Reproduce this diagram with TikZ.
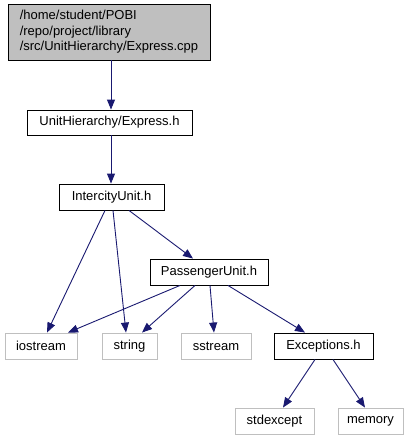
\documentclass[tikz,border=0pt]{standalone}
\usepackage{fontspec}
\setmainfont{Liberation Sans}
\usetikzlibrary{arrows.meta}
\definecolor{edgeblue}{HTML}{191970}
\definecolor{extgray}{HTML}{BFBFBF}
\begin{document}
\begin{tikzpicture}[x=1pt,y=-1pt,
  box/.style={draw=black, line width=0.9pt, fill=white, inner sep=0pt, font=\fontsize{13}{15.5}\selectfont},
  extbox/.style={draw=extgray, line width=0.9pt, fill=white, inner sep=0pt, font=\fontsize{13}{15.5}\selectfont},
  edge/.style={draw=edgeblue, line width=0.9pt, -{Triangle[length=10pt,width=8pt]}, color=edgeblue}]
\useasboundingbox (0,0) rectangle (413,440);
\node[box, fill=extgray, minimum width=202, minimum height=56, align=left] (top) at (109,32)
  {/home/student/POBI\\/repo/project/library\\/src/UnitHierarchy/Express.cpp};
\node[box, minimum width=165, minimum height=25] (ex) at (109.5,122.5) {UnitHierarchy/Express.h};
\node[box, minimum width=105, minimum height=26] (ic) at (111.5,197) {IntercityUnit.h};
\node[box, minimum width=118, minimum height=26] (pu) at (209,272) {PassengerUnit.h};
\node[extbox, minimum width=72, minimum height=26] (io) at (41,346) {iostream};
\node[extbox, minimum width=55, minimum height=26] (st) at (129.5,346) {string};
\node[extbox, minimum width=70, minimum height=26] (ss) at (216,346) {sstream};
\node[box, minimum width=99, minimum height=26] (exc) at (323.5,346) {Exceptions.h};
\node[extbox, minimum width=79, minimum height=26] (sx) at (274.5,421) {stdexcept};
\node[extbox, minimum width=65, minimum height=26] (mem) at (370.5,421) {memory};
\draw[edge] ([xshift=2]top.south) -- ([xshift=1.5]ex.north);
\draw[edge] ([xshift=1.5]ex.south) -- ([xshift=-0.5]ic.north);
\draw[edge] ([xshift=-6.5]ic.south) -- ([xshift=6]io.north);
\draw[edge] ([xshift=1.5]ic.south) -- ([xshift=-3.5]st.north);
\draw[edge] ([xshift=17.5]ic.south) -- ([xshift=-16]pu.north);
\draw[edge] ([xshift=-29]pu.south) -- ([xshift=27]io.north);
\draw[edge] ([xshift=-14]pu.south) -- ([xshift=12.5]st.north);
\draw[edge] ([xshift=1]pu.south) -- ([xshift=-2]ss.north);
\draw[edge] ([xshift=19]pu.south) -- ([xshift=-18.5]exc.north);
\draw[edge] ([xshift=-8.5]exc.south) -- ([xshift=8.5]sx.north);
\draw[edge] ([xshift=9.5]exc.south) -- ([xshift=-5.5]mem.north);
\end{tikzpicture}
\end{document}
